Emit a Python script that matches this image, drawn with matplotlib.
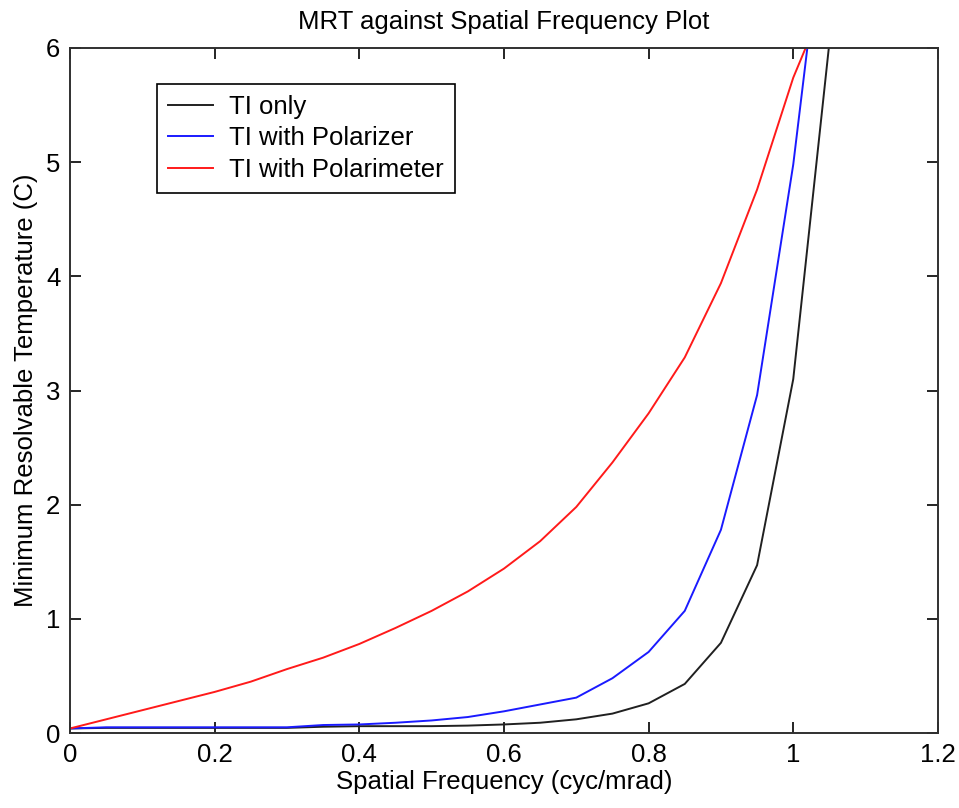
import matplotlib
matplotlib.use("Agg")
import matplotlib.pyplot as plt
import numpy as np

plt.rcParams["font.family"] = ["Liberation Sans", "DejaVu Sans"]
plt.rcParams["font.size"] = 18.5

# spatial frequency samples (cyc/mrad)
freq = [0.0, 0.05, 0.1, 0.15, 0.2, 0.25, 0.3, 0.35, 0.4, 0.45, 0.5,
        0.55, 0.6, 0.65, 0.7, 0.75, 0.8, 0.85, 0.9, 0.95, 1.0, 1.05]

# MRT (C) per configuration
mrt_ti = [0.04, 0.045, 0.045, 0.045, 0.045, 0.045, 0.045, 0.055, 0.06, 0.06, 0.06,
          0.065, 0.075, 0.09, 0.12, 0.17, 0.26, 0.43, 0.79, 1.47, 3.1, 6.05]
mrt_polarizer = [0.04, 0.05, 0.05, 0.05, 0.05, 0.05, 0.05, 0.07, 0.075, 0.09, 0.11,
                 0.14, 0.19, 0.25, 0.31, 0.48, 0.71, 1.07, 1.78, 2.96, 4.98, 7.6]
mrt_polarimeter = [0.04, 0.12, 0.2, 0.28, 0.36, 0.45, 0.56, 0.66, 0.78, 0.92, 1.07,
                   1.24, 1.44, 1.68, 1.98, 2.37, 2.8, 3.29, 3.94, 4.76, 5.74, 6.5]

fig = plt.figure(figsize=(9.59, 8.08), dpi=100)
ax = fig.add_axes([0.073, 0.0928, 0.905, 0.8478])

ax.plot(freq, mrt_ti, color="#202020", lw=1.4, label="TI only")
ax.plot(freq, mrt_polarizer, color="#1a1aff", lw=1.4, label="TI with Polarizer")
ax.plot(freq, mrt_polarimeter, color="#ff1a1a", lw=1.4, label="TI with Polarimeter")

ax.set_xlim(0, 1.2)
ax.set_ylim(0, 6)
ax.set_xticks([0, 0.2, 0.4, 0.6, 0.8, 1.0, 1.2], ["0", "0.2", "0.4", "0.6", "0.8", "1", "1.2"])
ax.set_yticks(range(7))
ax.tick_params(direction="in", length=8, width=1.2, top=True, right=True, pad=7)
for side in ax.spines.values():
    side.set_linewidth(1.4)
    side.set_color("#303030")

ax.set_xlabel("Spatial Frequency (cyc/mrad)", labelpad=2)
ax.set_ylabel("Minimum Resolvable Temperature (C)", labelpad=6)
ax.set_title("MRT against Spatial Frequency Plot", fontsize=18.5, pad=14)

leg = ax.legend(loc="upper left", bbox_to_anchor=(0.1, 0.948), fancybox=False,
                edgecolor="black", framealpha=1, handlelength=1.75, handletextpad=0.6,
                borderpad=0.45, labelspacing=0.28, borderaxespad=0)
leg.get_frame().set_linewidth(1.2)

fig.savefig("out.png", dpi=100)
